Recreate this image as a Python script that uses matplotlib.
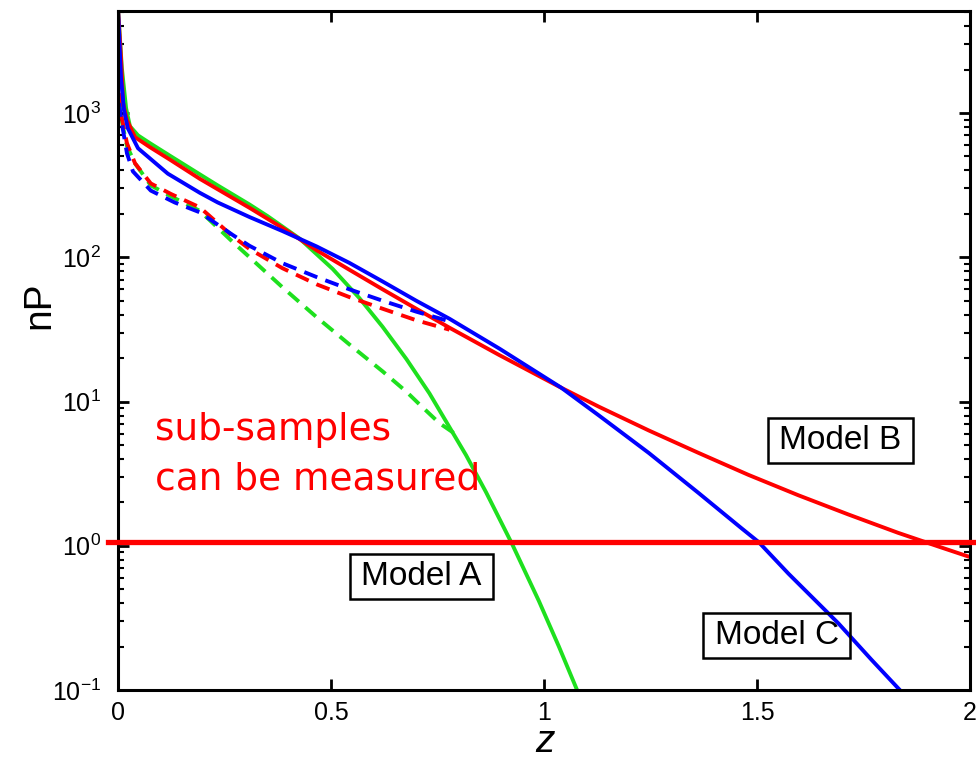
import numpy as np
import matplotlib
matplotlib.use("Agg")
import matplotlib.pyplot as plt
from matplotlib.ticker import LogLocator, NullFormatter, FixedLocator, FixedFormatter

plt.rcParams['font.family'] = ['Liberation Sans', 'DejaVu Sans']
plt.rcParams['mathtext.fontset'] = 'custom'
plt.rcParams['mathtext.rm'] = 'Liberation Sans'
plt.rcParams['mathtext.it'] = 'Liberation Sans:italic'

# Model A (green), full sample and sub-sample
z_a = [0.0, 0.009, 0.019, 0.028, 0.047, 0.075, 0.12, 0.192, 0.234, 0.309,
       0.351, 0.426, 0.504, 0.567, 0.621, 0.677, 0.731, 0.817, 0.864, 0.925,
       0.988, 1.035, 1.077, 1.085]
np_a = [5300, 2060, 1080, 811, 700, 618, 510, 376, 315, 232,
        193, 135, 83, 52, 33, 19.7, 11.4, 4.25, 2.35, 1.03,
        0.414, 0.200, 0.101, 0.088]
z_a_sub = [0.002, 0.009, 0.021, 0.040, 0.077, 0.124, 0.192, 0.269, 0.309,
           0.386, 0.466, 0.543, 0.621, 0.677, 0.707, 0.754, 0.79]
np_a_sub = [1273, 880, 589, 448, 315, 265, 210, 128, 100,
            62, 38.5, 24.9, 16.2, 11.7, 9.6, 7.1, 6.0]

# Model B (red)
z_b = [0.0, 0.007, 0.012, 0.021, 0.040, 0.075, 0.122, 0.192, 0.309, 0.386,
       0.466, 0.543, 0.621, 0.700, 0.778, 0.895, 1.035, 1.129, 1.246, 1.363,
       1.480, 1.597, 1.714, 1.831, 1.925, 2.0]
np_b = [5300, 2420, 1174, 894, 680, 580, 475, 350, 220, 160,
        112, 82, 60, 44, 32.5, 21, 12.7, 9.2, 6.3, 4.4,
        3.1, 2.24, 1.65, 1.23, 0.99, 0.835]
z_b_sub = [0.002, 0.009, 0.021, 0.040, 0.077, 0.124, 0.192, 0.269, 0.309,
           0.386, 0.466, 0.543, 0.621, 0.700, 0.778]
np_b_sub = [1377, 923, 618, 448, 325, 275, 222, 140, 114,
            84, 65, 53, 44, 36.6, 31.5]

# Model C (blue)
z_c = [0.0, 0.007, 0.014, 0.023, 0.047, 0.117, 0.192, 0.234, 0.309, 0.386,
       0.466, 0.543, 0.621, 0.700, 0.778, 0.895, 1.040, 1.129, 1.246, 1.363,
       1.464, 1.504, 1.574, 1.691, 1.768, 1.838, 1.85]
np_c = [5300, 1754, 1050, 785, 570, 380, 280, 240, 190, 152,
        119, 91.5, 68, 50, 37.5, 23.3, 12.5, 8.0, 4.4, 2.32,
        1.32, 1.06, 0.64, 0.29, 0.163, 0.098, 0.09]
z_c_sub = [0.002, 0.009, 0.021, 0.035, 0.077, 0.133, 0.192, 0.269, 0.309,
           0.386, 0.466, 0.543, 0.621, 0.700, 0.778]
np_c_sub = [1174, 851, 526, 394, 290, 240, 205, 143, 120,
            91, 73, 60, 50, 42, 36]

threshold = 1.07
x_ticks = [0, 0.5, 1, 1.5, 2]
x_tick_labels = ['0', '0.5', '1', '1.5', '2']

green = '#1ee01e'
red = '#ff0000'
blue = '#0000ff'

fig = plt.figure(figsize=(9.76, 7.61), dpi=100)
ax = fig.add_axes([118 / 976, 1 - 690 / 761, 852 / 976, 679 / 761])

lw = 2.8
dash = (3.6, 2.2)
ax.plot(z_a, np_a, color=green, lw=lw)
ax.plot(z_a_sub, np_a_sub, color=green, lw=lw, linestyle=(0, dash))
ax.plot(z_b, np_b, color=red, lw=lw)
ax.plot(z_b_sub, np_b_sub, color=red, lw=lw, linestyle=(0, dash))
ax.plot(z_c, np_c, color=blue, lw=lw)
ax.plot(z_c_sub, np_c_sub, color=blue, lw=lw, linestyle=(0, dash))

ax.axhline(threshold, xmin=-0.012, xmax=1.01, color=red, lw=3.8,
           clip_on=False, zorder=5)

ax.set_yscale('log')
ax.set_xlim(0, 2)
ax.set_ylim(0.1, 5100)

ax.xaxis.set_major_locator(FixedLocator(x_ticks))
ax.xaxis.set_major_formatter(FixedFormatter(x_tick_labels))
ax.yaxis.set_major_locator(LogLocator(base=10, numticks=10))
ax.yaxis.set_minor_locator(LogLocator(base=10, subs=np.arange(2, 10), numticks=20))
ax.yaxis.set_minor_formatter(NullFormatter())

ax.tick_params(which='both', direction='in', top=True, right=True,
               labelsize=18, colors='black')
ax.tick_params(which='major', length=8, width=2)
ax.tick_params(which='minor', length=4, width=1.5)
ax.tick_params(axis='y', pad=12)
ax.tick_params(axis='x', pad=8)
for s in ax.spines.values():
    s.set_linewidth(2.2)

ax.set_xlabel('z', fontsize=28, style='italic', va='center')
ax.xaxis.set_label_coords(0.501, -0.077)
ax.set_ylabel('nP', fontsize=28, va='center')
ax.yaxis.set_label_coords(-0.092, 0.567)

# va='baseline' pins the last line here
ax.text(0.044, 0.2946, 'sub-samples\ncan be measured', transform=ax.transAxes,
        color=red, fontsize=27, family=['DejaVu Sans'], ha='left',
        va='baseline', linespacing=1.5)

box = dict(boxstyle='square,pad=0.34', mutation_aspect=0.62,
           facecolor='none', edgecolor='black', lw=1.8)
ax.text(0.712, 0.612, 'Model A', fontsize=24, ha='center', va='center', bbox=box)
ax.text(1.696, 5.35, 'Model B', fontsize=24, ha='center', va='center', bbox=box)
ax.text(1.546, 0.238, 'Model C', fontsize=24, ha='center', va='center', bbox=box)

fig.savefig('out.png', dpi=100)
